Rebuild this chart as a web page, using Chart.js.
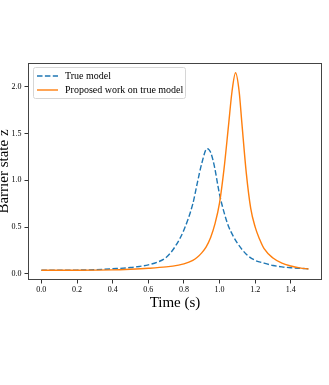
<!DOCTYPE html>
<html>
<head>
<meta charset="utf-8">
<script src="https://cdn.jsdelivr.net/npm/chart.js@4"></script>
<style>
	body { margin: 0; background: #fff; }
	canvas { display: block; }
</style>
</head>
<body>
<canvas id="myChart" width="329" height="385"></canvas>
<script>
// data
const trueTime = [0, 0.1, 0.2, 0.3, 0.4, 0.5, 0.55, 0.6, 0.65, 0.7, 0.75, 0.8, 0.85, 0.875, 0.9, 0.93, 0.95, 0.97, 1.0, 1.025, 1.05, 1.075, 1.1, 1.15, 1.2, 1.25, 1.3, 1.35, 1.4, 1.45, 1.5];
const trueState = [0.04, 0.04, 0.041, 0.045, 0.055, 0.068, 0.08, 0.097, 0.125, 0.175, 0.29, 0.47, 0.75, 0.97, 1.18, 1.34, 1.3, 1.16, 0.85, 0.66, 0.51, 0.41, 0.33, 0.21, 0.145, 0.115, 0.09, 0.075, 0.066, 0.06, 0.055];
const propTime = [0, 0.2, 0.4, 0.5, 0.6, 0.7, 0.77, 0.8, 0.85, 0.875, 0.9, 0.925, 0.95, 0.975, 1.0, 1.025, 1.05, 1.07, 1.09, 1.11, 1.125, 1.15, 1.175, 1.2, 1.225, 1.25, 1.3, 1.35, 1.4, 1.45, 1.5];
const propState = [0.04, 0.04, 0.043, 0.05, 0.06, 0.075, 0.094, 0.107, 0.145, 0.178, 0.225, 0.29, 0.39, 0.54, 0.76, 1.12, 1.58, 1.95, 2.15, 1.95, 1.62, 1.08, 0.7, 0.5, 0.37, 0.27, 0.17, 0.115, 0.085, 0.065, 0.052];
const xTicks = [0, 0.2, 0.4, 0.6, 0.8, 1.0, 1.2, 1.4];
const yTicks = [0, 0.5, 1.0, 1.5, 2.0];
const seriesNames = ["True model", "Proposed work on true model"];

const serif = "'Liberation Serif', 'DejaVu Serif', serif";

// frame round the plot area and legend inside it
const framePlugin = {
	id: "frame",
	afterDraw(chart) {
		const ctx = chart.ctx;
		const a = chart.chartArea;
		ctx.save();
		ctx.strokeStyle = "#444";
		ctx.lineWidth = 1;
		ctx.strokeRect(Math.round(a.left) + 0.5, Math.round(a.top) + 0.5,
			Math.round(a.right - a.left) - 1, Math.round(a.bottom - a.top) - 1);

		// legend
		const bx = a.left + 5, by = a.top + 4, bw = 152, bh = 31;
		ctx.fillStyle = "rgba(255,255,255,0.85)";
		ctx.strokeStyle = "#d6d6d6";
		ctx.beginPath();
		ctx.roundRect(bx + 0.5, by + 0.5, bw, bh, 2);
		ctx.fill();
		ctx.stroke();
		ctx.font = "10px " + serif;
		ctx.textBaseline = "middle";
		chart.data.datasets.forEach((ds, i) => {
			const y = by + 9 + i * 14;
			ctx.strokeStyle = ds.borderColor;
			ctx.lineWidth = ds.borderWidth;
			ctx.setLineDash(ds.borderDash || []);
			ctx.beginPath();
			ctx.moveTo(bx + 4, y);
			ctx.lineTo(bx + 25, y);
			ctx.stroke();
			ctx.setLineDash([]);
			ctx.fillStyle = "#000";
			ctx.fillText(ds.label, bx + 32, y + 0.5);
		});
		ctx.restore();
	},
};

const ctx = document.getElementById("myChart").getContext("2d");
const myChart = new Chart(ctx, {
	type: "line",
	data: {
		datasets: [
			{
				label: seriesNames[0],
				data: trueTime.map((t, i) => ({ x: t, y: trueState[i] })),
				borderColor: "#1f77b4",
				borderWidth: 1.4,
				borderDash: [5.5, 2.4],
				pointRadius: 0,
				cubicInterpolationMode: "monotone",
				fill: false,
				order: 1,
			},
			{
				label: seriesNames[1],
				data: propTime.map((t, i) => ({ x: t, y: propState[i] })),
				borderColor: "#ff7f0e",
				borderWidth: 1.4,
				pointRadius: 0,
				cubicInterpolationMode: "monotone",
				fill: false,
				order: 0,
			},
		],
	},
	options: {
		responsive: false,
		animation: false,
		devicePixelRatio: 1,
		layout: { padding: { left: 0, right: 7, top: 63, bottom: 73 } },
		plugins: { legend: { display: false }, tooltip: { enabled: false } },
		scales: {
			x: {
				type: "linear",
				min: -0.075,
				max: 1.575,
				afterBuildTicks: (s) => { s.ticks = xTicks.map((v) => ({ value: v })); },
				afterFit: (s) => { s.height = 32; },
				grid: { drawOnChartArea: false, drawTicks: true, tickLength: 3.5, tickColor: "#333" },
				border: { display: false },
				ticks: {
					color: "#000",
					padding: 2,
					maxRotation: 0,
					font: { family: serif, size: 8 },
					callback: (v) => v.toFixed(1),
				},
				title: {
					display: true,
					text: "Time (s)",
					color: "#000",
					padding: 0,
					font: { family: serif, size: 15 },
				},
			},
			y: {
				type: "linear",
				min: -0.065,
				max: 2.255,
				afterBuildTicks: (s) => { s.ticks = yTicks.map((v) => ({ value: v })); },
				afterFit: (s) => { s.width = 28; },
				grid: { drawOnChartArea: false, drawTicks: true, tickLength: 3.5, tickColor: "#333" },
				border: { display: false },
				ticks: {
					color: "#000",
					padding: 3,
					font: { family: serif, size: 8 },
					callback: (v) => v.toFixed(1),
				},
				title: {
					display: true,
					text: "Barrier state z",
					color: "#000",
					padding: { top: -5, bottom: 0 },
					font: { family: serif, size: 15 },
				},
			},
		},
	},
	plugins: [framePlugin],
});
</script>
</body>
</html>
